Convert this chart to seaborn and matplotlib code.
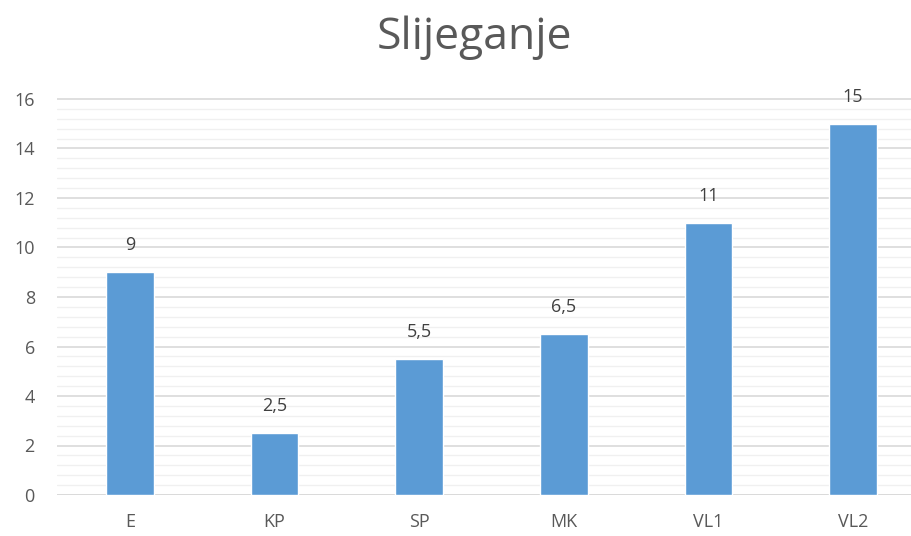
import matplotlib
matplotlib.use("Agg")
import matplotlib.pyplot as plt
import seaborn as sns
import pandas as pd
import numpy as np

categories = ["E", "KP", "SP", "MK", "VL1", "VL2"]
values = [9, 2.5, 5.5, 6.5, 11, 15]
value_labels = ["9", "2,5", "5,5", "6,5", "11", "15"]
yticks = [0, 2, 4, 6, 8, 10, 12, 14, 16]
title = "Slijeganje"

sns.set_theme(style="white")
plt.rcParams['font.family'] = ['Open Sans', 'DejaVu Sans']

df = pd.DataFrame({"cat": categories, "val": values})

fig = plt.figure(figsize=(9.12, 5.36), dpi=100)
ax = fig.add_axes([57/912, (536-495)/536, (912-57)/912, (495-99)/536 * 16.2/16])

sns.barplot(data=df, x="cat", y="val", color="#5B9BD5", width=0.33,
            saturation=1, ax=ax, zorder=3)

ax.set_xlim(-0.505, 5.408)
ax.set_ylim(0, 16.2)
ax.set_yticks(yticks)
ax.set_yticks(np.arange(0, 16.01, 0.4), minor=True)
ax.grid(axis="y", which="major", color="#D9D9D9", linewidth=1.2, zorder=0)
ax.grid(axis="y", which="minor", color="#F0F0F0", linewidth=1.0, zorder=0)
ax.set_axisbelow(True)
for s in ["top", "right", "left", "bottom"]:
    ax.spines[s].set_visible(False)
ax.axhline(0, color="#D9D9D9", linewidth=1.2, zorder=2)

ax.tick_params(axis="y", which="both", length=0, labelsize=13, labelcolor="#595959", pad=16)
ax.tick_params(axis="x", length=0, labelsize=13, labelcolor="#595959", pad=13)
ax.set_xlabel("")
ax.set_ylabel("")

for i, (v, t) in enumerate(zip(values, value_labels)):
    ax.annotate(t, (i, v), xytext=(0, 13), textcoords="offset points",
                ha="center", va="bottom", fontsize=13, color="#404040")

fig.text(474/912, 1 - 38/536, title, ha="center", va="center",
         fontsize=32, color="#595959")

fig.savefig("out.png", dpi=100)
